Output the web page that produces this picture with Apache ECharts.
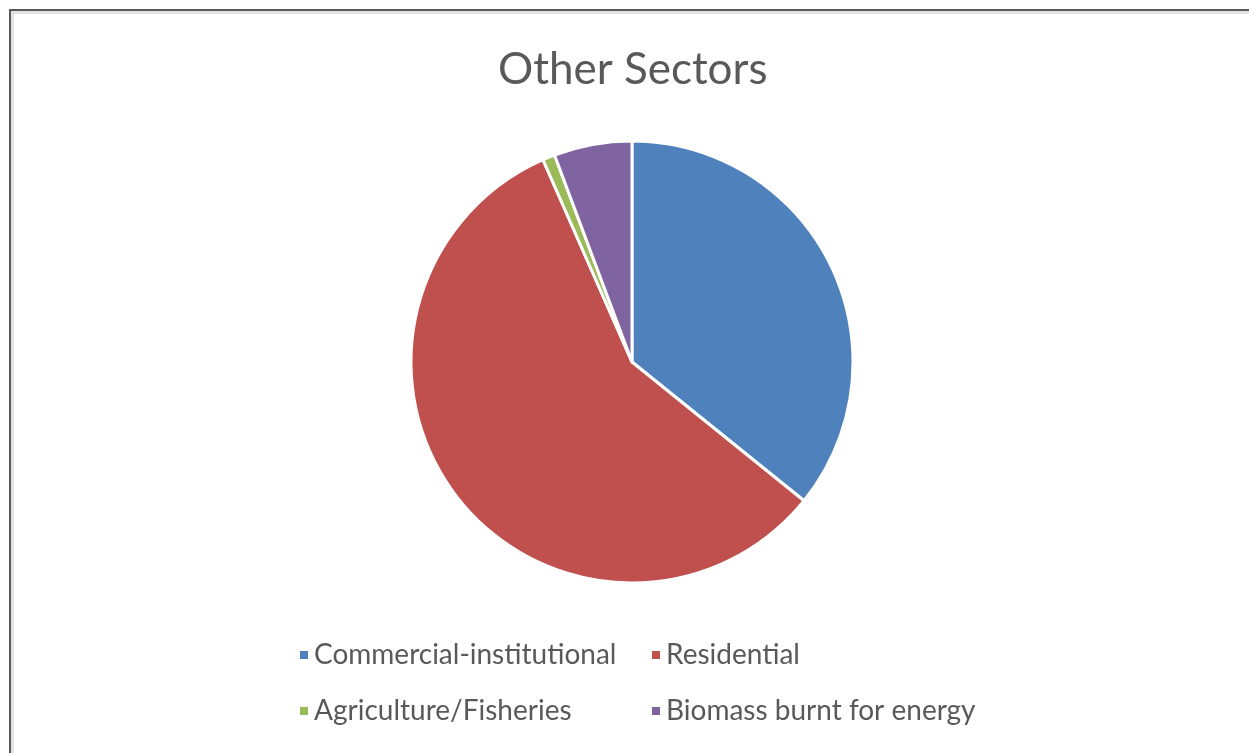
<!DOCTYPE html>
<html>
<head>
<meta charset="utf-8">
<script src="https://cdn.jsdelivr.net/npm/echarts@6/dist/echarts.min.js"></script>
<style>
  html, body { margin: 0; padding: 0; background: #fff; }
  #frame {
    position: absolute; left: 9px; top: 9px; width: 1238px; height: 750px;
    border-top: 2px solid #5a5a5a; border-left: 2px solid #5a5a5a; border-right: 2px solid #e4e4e4;
    box-shadow: inset 3px 3px 0 #e2e2e2;
  }
  #chart { position: absolute; left: 0; top: 0; width: 1249px; height: 753px; }
</style>
</head>
<body>
<div id="frame"></div>
<div id="chart"></div>
<script>
var categories = ['Commercial-institutional', 'Residential', 'Agriculture/Fisheries', 'Biomass burnt for energy'];
var shares = [35.8, 57.6, 0.9, 5.7];
var colors = ['#4f81bd', '#c0504d', '#9bbb59', '#8064a2'];

var myChart = echarts.init(document.getElementById('chart'));

var legendText = { color: '#595959', fontSize: 28, fontFamily: 'Lato' };

var option = {
    color: colors,
    title: {
        text: 'Other Sectors',
        left: 493,
        top: 43,
        textStyle: { color: '#595959', fontSize: 44, fontWeight: 'normal', fontFamily: 'Lato' }
    },
    legend: [{
        // left column
        orient: 'vertical',
        left: 293,
        top: 636,
        icon: 'rect',
        itemWidth: 10,
        itemHeight: 10,
        itemGap: 28,
        textStyle: legendText,
        data: [categories[0], categories[2]]
    }, {
        // right column
        orient: 'vertical',
        left: 645,
        top: 636,
        icon: 'rect',
        itemWidth: 10,
        itemHeight: 10,
        itemGap: 28,
        textStyle: legendText,
        data: [categories[1], categories[3]]
    }],
    series: [{
        type: 'pie',
        center: [632, 362],
        radius: 221,
        startAngle: 90,
        clockwise: true,
        label: { show: false },
        labelLine: { show: false },
        itemStyle: { borderColor: '#ffffff', borderWidth: 3 },
        emphasis: { disabled: true },
        animation: false,
        data: categories.map(function (name, i) {
            return { name: name, value: shares[i] };
        })
    }]
};
myChart.setOption(option);
</script>
</body>
</html>
